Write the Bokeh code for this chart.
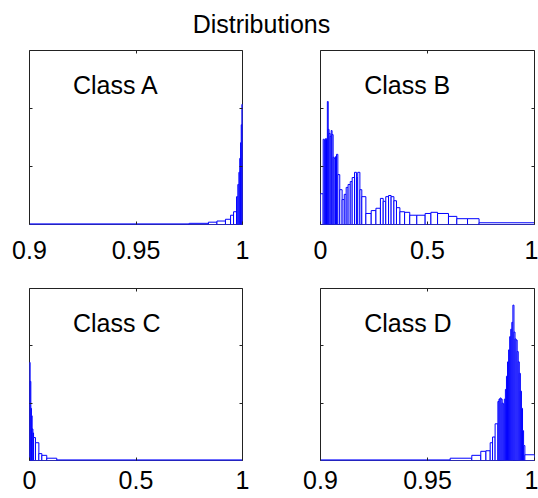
from bokeh.plotting import figure
from bokeh.models import Range1d, FixedTicker, LinearAxis, CustomJSTickFormatter
from bokeh.layouts import column, row
from bokeh.core.properties import value
from bokeh.embed import file_html
from bokeh.resources import INLINE

# ---------------- data ----------------
TITLE = "Distributions"
LABELS = ["Class A", "Class B", "Class C", "Class D"]
XRANGE_A = (0.9, 1.0)
XRANGE_B = (0.0, 1.0)
XRANGE_C = (0.0, 1.0)
XRANGE_D = (0.9, 1.0)
XTICKS_A = [0.9, 0.95, 1.0]
XTICKS_B = [0.0, 0.5, 1.0]
XTICKS_C = [0.0, 0.5, 1.0]
XTICKS_D = [0.9, 0.95, 1.0]
YMAX = 300
YTICKS = [100, 200]

A_edges = [0.9, 0.975, 0.984, 0.988, 0.992, 0.9944, 0.9958, 0.9972, 0.9978,
           0.9983, 0.9987, 0.9991, 0.9994, 0.9997, 1.0]
A_counts = [1, 2, 4, 6, 9, 16, 22, 48, 69, 90, 114, 141, 172, 207]

B_edges = [0, 0.0125, 0.018, 0.023, 0.028, 0.032, 0.036, 0.040, 0.045, 0.050,
           0.054, 0.059, 0.064, 0.070, 0.075, 0.081, 0.090, 0.101, 0.111, 0.120,
           0.129, 0.139, 0.148, 0.159, 0.168, 0.174, 0.184, 0.193, 0.212, 0.237,
           0.259, 0.280, 0.293, 0.305, 0.318, 0.330, 0.343, 0.355, 0.371, 0.393,
           0.417, 0.450, 0.489, 0.516, 0.547, 0.598, 0.637, 0.687, 0.741, 1.0]
B_counts = [53, 147, 145, 148, 147, 212, 164, 157, 152, 162, 155, 116, 114, 117,
            121, 86, 60, 43, 52, 64, 69, 74, 81, 90, 81, 90, 60, 48, 19, 24, 28,
            45, 40, 48, 50, 48, 41, 29, 22, 21, 16, 16, 19, 21, 19, 14, 10, 10, 3]

C_edges = [0, 0.003, 0.0063, 0.009, 0.0125, 0.016, 0.019, 0.028, 0.044, 0.058,
           0.081, 0.128, 1.0]
C_counts = [171, 138, 91, 78, 55, 48, 40, 31, 12, 9, 4, 1]

D_edges = [0.9, 0.9606, 0.9707, 0.9749, 0.9773, 0.9793, 0.9804, 0.9816, 0.9829,
           0.9834, 0.9839, 0.9844, 0.9849, 0.9854, 0.9859, 0.9864, 0.9869, 0.9874,
           0.9879, 0.9884, 0.9889, 0.9894, 0.9899, 0.9904, 0.9909, 0.9914, 0.9919,
           0.9924, 0.9929, 0.9934, 0.9939, 0.9944, 0.9949, 0.9955, 1.0]
D_counts = [1, 4, 9, 16, 17, 31, 41, 64,
            103, 107, 109, 107, 100, 98, 107, 124, 147, 172, 193, 216, 229, 241,
            271, 224, 212, 210, 190, 172, 152, 121, 91, 52,
            26, 10]

# ---------------- style ----------------
FONT = "Liberation Sans"
FS = "25px"
BOX = "#222222"
BAR = "#0000ff"
LABEL_X_FRAC = 0.204
LABEL_Y = 240


def panel(edges, counts, xr, xticks, label, width, height, mbl, mbr, mbt, mbb, standoff):
    p = figure(width=width, height=height, x_range=Range1d(*xr),
               y_range=Range1d(0, YMAX), output_backend="svg",
               toolbar_location=None, x_axis_location=None, y_axis_location=None,
               title_location=None,
               min_border_left=mbl, min_border_right=mbr,
               min_border_top=mbt, min_border_bottom=mbb)
    p.grid.visible = False
    p.outline_line_color = BOX
    p.outline_line_width = 1
    p.background_fill_color = "white"
    p.border_fill_color = "white"
    p.quad(left=edges[:-1], right=edges[1:], bottom=0, top=counts,
           fill_color="white", line_color=BAR, line_width=1)
    p.text(x=[xr[0] + LABEL_X_FRAC * (xr[1] - xr[0])], y=[LABEL_Y], text=[label],
           text_font=value(FONT), text_font_size=FS, text_color="black",
           text_baseline="alphabetic", text_align="left")

    def ax(ticks, labels, so):
        return LinearAxis(ticker=FixedTicker(ticks=ticks),
                          formatter=CustomJSTickFormatter(
                              code="return tick.toString()" if labels else "return ''"),
                          major_tick_in=3, major_tick_out=0,
                          minor_tick_line_color=None, axis_line_color=None,
                          major_tick_line_color=BOX, major_label_standoff=so,
                          major_label_text_font=FONT,
                          major_label_text_font_size=FS if labels else "1px",
                          major_label_text_color="black")

    p.add_layout(ax(xticks, True, standoff), "below")
    p.add_layout(ax(xticks, False, 0), "above")
    p.add_layout(ax(YTICKS, False, 0), "left")
    p.add_layout(ax(YTICKS, False, 0), "right")
    return p


title = figure(width=538, height=45, x_range=Range1d(0, 1), y_range=Range1d(0, 1),
               output_backend="svg", toolbar_location=None, title_location=None,
               x_axis_location=None, y_axis_location=None, min_border=0)
title.grid.visible = False
title.outline_line_color = None
title.text(x=[0.485], y=[0.467], text=[TITLE], text_font=value(FONT),
           text_font_size=FS, text_color="black", text_align="center",
           text_baseline="alphabetic")

pA = panel(A_edges, A_counts, XRANGE_A, XTICKS_A, LABELS[0], 280, 238, 29, 38, 5, 59, 16)
pB = panel(B_edges, B_counts, XRANGE_B, XTICKS_B, LABELS[1], 258, 238, 40, 4, 5, 59, 16)
pC = panel(C_edges, C_counts, XRANGE_C, XTICKS_C, LABELS[2], 280, 215, 29, 38, 5, 38, 10)
pD = panel(D_edges, D_counts, XRANGE_D, XTICKS_D, LABELS[3], 258, 215, 40, 4, 5, 38, 10)

layout = column(title, row(pA, pB), row(pC, pD))
open("out.html", "w").write(file_html(layout, INLINE))
